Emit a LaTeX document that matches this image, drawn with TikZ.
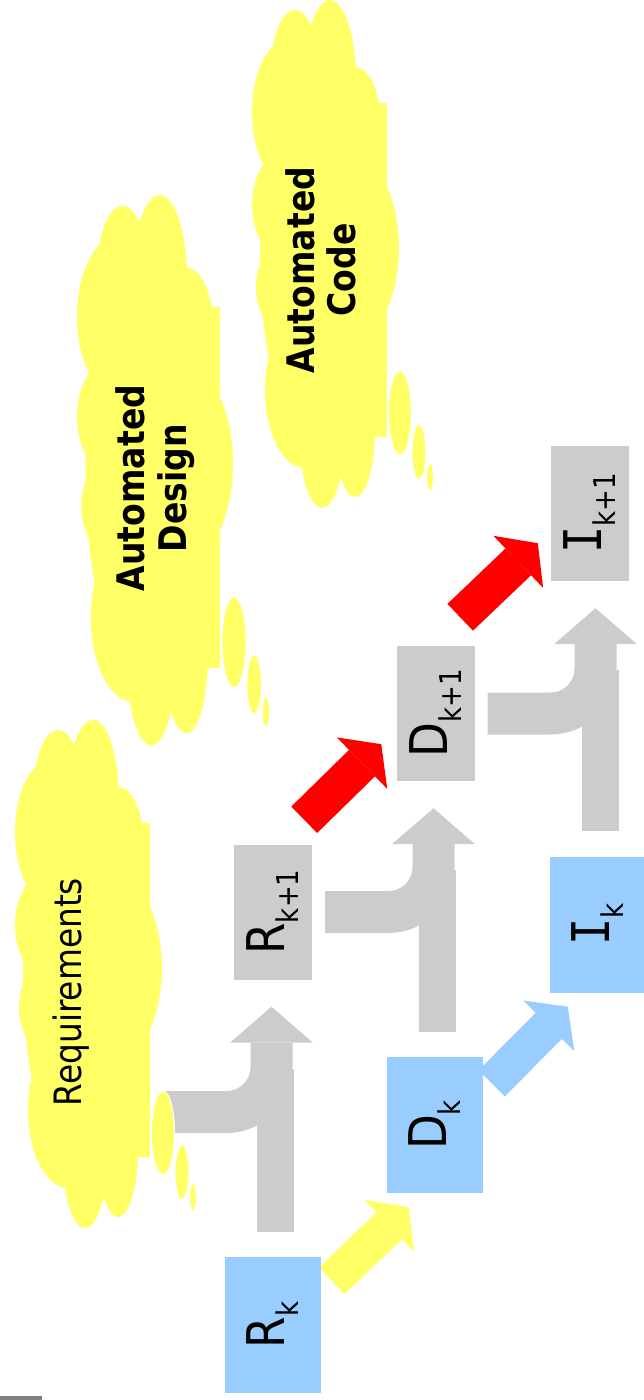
\documentclass[tikz,border=0pt]{standalone}
\usepackage{fontspec}
\setmainfont{DejaVu Sans}[FakeStretch=0.87]
\newfontfamily\barI{DejaVu Sans Mono}[FakeStretch=0.87]
\usepackage{graphicx}
\usetikzlibrary{arrows.meta}

\definecolor{nowblue}{HTML}{99CCFF}
\definecolor{nextgray}{HTML}{CCCCCC}
\definecolor{puffyellow}{HTML}{FFFF66}

\newcommand{\phaselabel}[2]{\rotatebox{90}{\fontsize{52}{60}\selectfont #1\raisebox{-14pt}{\fontsize{30}{30}\selectfont #2}}}

\begin{document}
\begin{tikzpicture}[x = 1pt, y = -1pt,
    now/.style={fill=nowblue, inner sep=0pt, minimum width=96pt, minimum height=136pt},
    next/.style={fill=nextgray, inner sep=0pt, minimum width=78pt, minimum height=135pt},
    flow/.style={line width=37pt, -{Triangle[width=72pt, length=27pt, line width=0pt]}},
    stem/.style={nextgray, line width=37pt, shorten <=25pt, shorten >=89pt},
    merge/.style={nextgray, line width=42pt, rounded corners=45pt, shorten >=27pt,
        -{Triangle[width=83pt, length=36pt, line width=0pt]}},
    thought/.pic={
        \path[fill=puffyellow, preaction={draw=white, line width=2pt}]
            (78,80) ellipse (26 and 80)
            (43,70) ellipse (24 and 60)
            (36,112) ellipse (36 and 72)
            (36,205) ellipse (36 and 55)
            (40,287) ellipse (36 and 50)
            (53,390) ellipse (40 and 78)
            (70,440) ellipse (22 and 68)
            (103,430) ellipse (20 and 67)
            (88,248) ellipse (59 and 101)
            (103,120) ellipse (25 and 53)
            (68,255) ellipse (60 and 200);
        \fill[puffyellow] (68,103) rectangle (135,437);
        \path[fill=puffyellow, draw=white, line width=1pt]
            (148,413) ellipse (11.5 and 42)
            (167,452) ellipse (7 and 27.5)
            (178,477) ellipse (3.5 and 14);
    }]
    \useasboundingbox (0,0) rectangle (643,1400);

    % phases k and k+1
    \node[now] (Rk) at (273,1325) {\phaselabel{R}{k}};
    \node[now] (Dk) at (435,1125) {\phaselabel{D}{k}};
    \node[now] (Ik) at (598,924.5) {\phaselabel{{\barI I}}{k}};
    \node[next] (Rk1) at (273,912) {\phaselabel{R}{k+1}};
    \node[next] (Dk1) at (435.5,713.5) {\phaselabel{D}{k+1}};
    \node[next] (Ik1) at (590,513.5) {\phaselabel{{\barI I}}{k+1}};
    \coordinate (req) at (163,1112);

    % carried over from k
    \draw[stem] ([xshift=2.5pt]Rk.north) -- ([xshift=2.5pt]Rk.north |- Rk1.south);
    \draw[stem] ([xshift=2pt]Dk.north) -- ([xshift=2pt]Dk.north |- Dk1.south);
    \draw[stem] ([xshift=2.5pt]Ik.north) -- ([xshift=2.5pt]Ik.north |- Ik1.south);
    \draw[merge] (req) -| ([xshift=-1.5pt]Rk1.south);
    \draw[merge] ([xshift=13pt]Rk1.east) -| ([xshift=-2pt]Dk1.south);
    \draw[merge] ([xshift=13pt]Dk1.east) -| ([xshift=5.5pt]Ik1.south);

    \draw[flow, puffyellow] ([shift={(10.5,24)}]Rk.north east) -- ([shift={(22,14)}]Dk.south west);
    \draw[flow, nowblue] ([shift={(8.5,26.5)}]Dk.north east) -- ([shift={(18,14)}]Ik.south west);
    \draw[flow, red] ([shift={(-8,-24.5)}]Rk1.north east) -- ([shift={(-15,-37)}]Dk1.south west);
    \draw[flow, red] ([shift={(-14.5,-28.5)}]Dk1.north east) -- ([shift={(-13,-38)}]Ik1.south west);

    % redraw boxes over the arrow ends
    \node[now] at (Rk) {\phaselabel{R}{k}};
    \node[now] at (Dk) {\phaselabel{D}{k}};
    \node[now] at (Ik) {\phaselabel{{\barI I}}{k}};

    % clouds
    \pic at (15,720) {thought};
    \pic[xscale=1.061, yscale=1.083] at (77,195) {thought};
    \pic at (252,0) {thought};
    \node[rotate=90, anchor=base, font=\fontsize{37.7}{42}\selectfont] (reqtext) at (81,992) {Requirements};
    \node[rotate=90, align=center, font=\bfseries\fontsize{38}{42}\selectfont] (design) at (155,488) {Automated\\Design};
    \node[rotate=90, align=center, font=\bfseries\fontsize{38}{41}\selectfont] (code) at (321,270) {Automated\\Code};

    \fill[black!50] (0,1396) rectangle (42,1400);
\end{tikzpicture}
\end{document}
